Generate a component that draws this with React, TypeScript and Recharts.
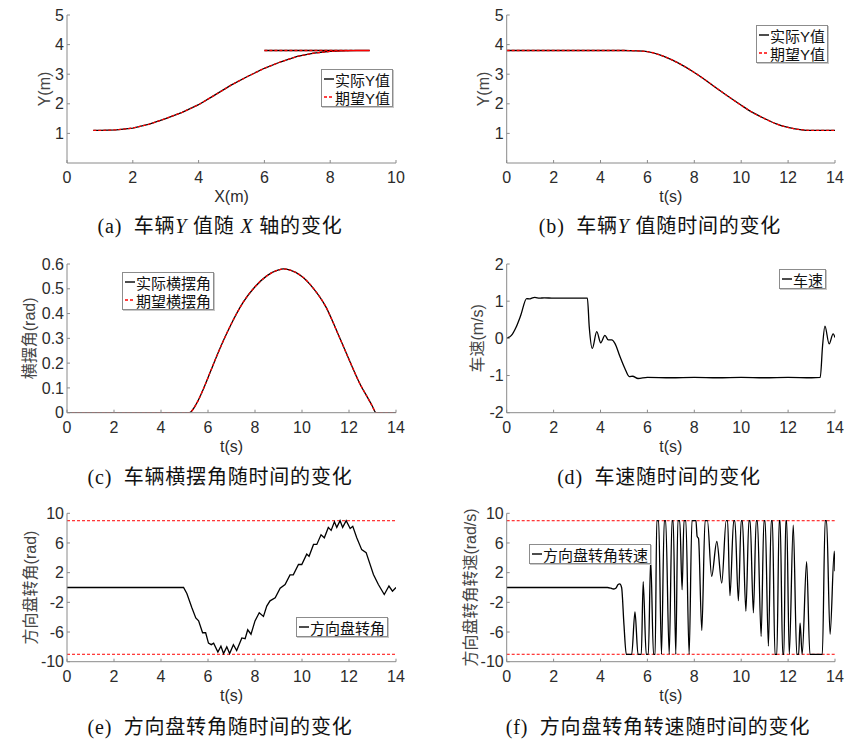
import React from 'react';
import { LineChart, Line, XAxis, YAxis, ReferenceLine, Legend } from 'recharts';

// (a) 车辆Y值随X轴的变化 - path in driving order (forward to 9.2 m, then back)
const xPathA = [6.0, 6.5, 7.0, 7.5, 8.0, 8.5, 9.0, 9.2, 8.8, 8.4, 8.0, 7.5, 7.0, 6.5, 6.0, 5.5, 5.0, 4.5, 4.0, 3.5, 3.0, 2.5, 2.0, 1.5, 1.0, 0.8];
const actualYA = [3.8, 3.8, 3.8, 3.8, 3.8, 3.8, 3.8, 3.8, 3.8, 3.79, 3.77, 3.71, 3.6, 3.42, 3.2, 2.93, 2.64, 2.3, 1.97, 1.71, 1.5, 1.31, 1.18, 1.12, 1.1, 1.1];
const desiredYA = [3.8, 3.8, 3.8, 3.8, 3.8, 3.8, 3.8, 3.8, 3.8, 3.79, 3.77, 3.71, 3.6, 3.42, 3.2, 2.93, 2.64, 2.3, 1.97, 1.71, 1.5, 1.31, 1.18, 1.12, 1.1, 1.1];
const xTicksA = [0, 2, 4, 6, 8, 10];
const yTicksAB = [1, 2, 3, 4, 5];

// (b) 车辆Y值随时间的变化
const tB = [0, 5, 5.5, 6, 6.5, 7, 7.5, 8, 8.5, 9, 9.5, 10, 10.5, 11, 11.5, 12, 12.5, 13, 13.5, 14];
const actualYB = [3.8, 3.8, 3.79, 3.76, 3.66, 3.5, 3.3, 3.06, 2.79, 2.5, 2.22, 1.95, 1.7, 1.5, 1.32, 1.2, 1.13, 1.1, 1.1, 1.1];
const desiredYB = [3.8, 3.8, 3.79, 3.76, 3.66, 3.5, 3.3, 3.06, 2.79, 2.5, 2.22, 1.95, 1.7, 1.5, 1.32, 1.2, 1.13, 1.1, 1.1, 1.1];
const tTicks = [0, 2, 4, 6, 8, 10, 12, 14];

// (c) 车辆横摆角随时间的变化
const tC = [0, 5, 5.2, 5.5, 5.8, 6.1, 6.4, 6.7, 7, 7.5, 8, 8.5, 9, 9.2, 9.5, 10, 10.5, 11, 11.5, 12, 12.5, 12.8, 13, 13.15, 14];
const actualYawC = [0, 0, 0, 0.035, 0.095, 0.165, 0.235, 0.3, 0.36, 0.446, 0.508, 0.552, 0.576, 0.58, 0.575, 0.55, 0.5, 0.43, 0.325, 0.215, 0.11, 0.06, 0.025, 0, 0];
const desiredYawC = [0, 0, 0, 0.035, 0.095, 0.165, 0.235, 0.3, 0.36, 0.446, 0.508, 0.552, 0.576, 0.58, 0.575, 0.55, 0.5, 0.43, 0.325, 0.215, 0.11, 0.06, 0.025, 0, 0];
const yTicksC = [0, 0.1, 0.2, 0.3, 0.4, 0.5, 0.6];

// (d) 车速随时间的变化
const tD = [0, 0.2, 0.4, 0.6, 0.85, 0.97, 1.1, 1.2, 1.4, 1.6, 2, 3, 3.44, 3.52, 3.65, 3.84, 4.01, 4.19, 4.33, 4.48, 4.62, 4.83, 5.04, 5.23, 5.37, 5.6, 6, 7, 8, 9, 10, 11, 12, 13, 13.37, 13.47, 13.57, 13.75, 13.92, 14];
const speedD = [0, 0.08, 0.3, 0.62, 1.07, 1.06, 1.09, 1.1, 1.08, 1.09, 1.08, 1.08, 1.08, 0.31, -0.27, 0.18, -0.12, 0.08, -0.04, -0.04, -0.14, -0.49, -0.81, -1.03, -1.02, -1.08, -1.05, -1.06, -1.05, -1.06, -1.05, -1.06, -1.05, -1.06, -1.05, -0.2, 0.33, -0.15, 0.12, 0.02];
const yTicksD = [-2, -1, 0, 1, 2];

// (e) 方向盘转角随时间的变化
const tE = [0, 4.96, 5.1, 5.31, 5.48, 5.6, 5.77, 5.9, 6.02, 6.14, 6.24, 6.42, 6.55, 6.66, 6.8, 6.92, 7.08, 7.22, 7.44, 7.58, 7.69, 7.83, 8.0, 8.18, 8.36, 8.5, 8.64, 8.86, 9.07, 9.28, 9.49, 9.63, 9.85, 9.99, 10.2, 10.3, 10.49, 10.63, 10.81, 10.95, 11.12, 11.24, 11.38, 11.48, 11.62, 11.73, 11.88, 12.05, 12.16, 12.33, 12.54, 12.73, 13.04, 13.25, 13.5, 13.7, 13.85, 14];
const steerE = [0, 0, -0.8, -2.7, -4.1, -4.5, -6.1, -6.1, -7.5, -7.7, -7.5, -8.7, -7.9, -8.9, -8.0, -8.9, -7.7, -8.5, -6.8, -6.9, -5.7, -6.3, -4.5, -3.4, -3.9, -2.5, -1.8, -1.4, -0.1, 0.4, 1.7, 1.7, 3.1, 3.1, 4.5, 4.2, 5.8, 5.8, 7.1, 6.7, 8.1, 7.7, 8.85, 8.1, 9.0, 8.1, 9.0, 7.95, 8.25, 6.7, 5.1, 4.7, 1.75, 0.4, -0.94, 0.2, -0.5, 0];
const yTicksEF = [-10, -6, -2, 2, 6, 10];
const steerLimit = 9;

// (f) 方向盘转角转速随时间的变化
const tF = [0, 4.3, 4.45, 4.55, 4.65, 4.75, 4.82, 4.9, 5.0, 5.1, 5.33, 5.47, 5.6, 5.74, 5.82, 5.95, 6.04, 6.14, 6.26, 6.33, 6.4, 6.48, 6.6, 6.72, 6.78, 6.93, 7.05, 7.1, 7.21, 7.3, 7.38, 7.48, 7.56, 7.64, 7.78, 7.9, 8.07, 8.12, 8.18, 8.32, 8.46, 8.56, 8.74, 8.96, 9.17, 9.36, 9.42, 9.52, 9.68, 9.73, 9.88, 10.0, 10.05, 10.2, 10.33, 10.38, 10.52, 10.64, 10.69, 10.85, 10.97, 11.02, 11.16, 11.28, 11.33, 11.44, 11.52, 11.62, 11.66, 11.77, 11.82, 11.9, 11.94, 12.05, 12.22, 12.37, 12.45, 12.51, 12.6, 12.79, 12.93, 13.46, 13.58, 13.64, 13.79, 13.97, 14];
const steerRateF = [0, 0, -0.1, -0.2, -0.1, 0.4, 0.5, 0, -5, -9, -9, -3.3, -9, -9, 0.8, -9, -9, 3.8, -9, -9, 9, 9, -9, 9, 9, -9, 9, 9, -9, 9, 9, -0.3, 9, 9, -9, 9, 9, 6.9, 6.6, -5.8, 9, 9, 1.5, 6.2, 0.6, 9, 9, -1.1, 9, 9, -1.8, 9, 9, -3.2, 9, 9, -3.4, 9, 9, -6.6, 9, 9, -7.9, 9, 9, -9, -9, 9, 9, -9, -9, 9, 9, -9, 8.4, -9, -9, -4.8, -9, 3.5, -9, -9, 9, 9, -6.3, 4.9, 2.2];
const rateLimit = 9;

const AXIS = '#8a8a8a';
const INK = '#2b2b2b';
const SANS = '"Liberation Sans", Arial, "Noto Sans CJK SC", sans-serif';
const SERIF = '"Liberation Serif", "Times New Roman", "Noto Sans CJK SC", serif';
const YW = 40;
const XH = 30;

type Box = { left: number; top: number; width: number; height: number };
type Plot = { x0: number; x1: number; y0: number; y1: number };
type Item = { name: string; color: string; dash?: string };

const margins = (c: Box, p: Plot) => ({
    left: p.x0 - c.left - YW,
    top: p.y0 - c.top,
    right: c.left + c.width - p.x1,
    bottom: c.top + c.height - p.y1 - XH,
});

const tickStyle = { fill: INK, fontSize: 16, fontFamily: SANS };

function LegendBox({ items }: { items: Item[] }) {
    return (
        <div style={{ display: 'inline-block', border: '1px solid #8c8c8c', background: '#fff', padding: '0 2px 0 2px', boxShadow: '1px 1px 0 #c8c8c8' }}>
            {items.map(it => (
                <div key={it.name} style={{ display: 'flex', alignItems: 'center', height: 18, fontSize: 15, fontFamily: SANS, color: '#111', whiteSpace: 'nowrap' }}>
                    <svg width={10} height={4} style={{ marginRight: 1 }}>
                        <line x1={0} y1={2} x2={10} y2={2} stroke={it.color} strokeWidth={1.4} strokeDasharray={it.dash} />
                    </svg>
                    <span>{it.name}</span>
                </div>
            ))}
        </div>
    );
}

interface PanelProps {
    cell: Box;
    plot: Plot;
    data?: any[];
    xKey: string;
    xDomain: [number, number];
    xTicks: number[];
    yDomain: [number, number];
    yTicks: number[];
    xTitle: string;
    yTitle: string;
    yTitleX: number;
    legend: Item[];
    legendAt: { x: number; y: number };
    children: React.ReactNode;
}

function Panel({ cell, plot, data, xKey, xDomain, xTicks, yDomain, yTicks, xTitle, yTitle, yTitleX, legend, legendAt, children }: PanelProps) {
    const xlx = (plot.x0 + plot.x1) / 2 - cell.left;
    const xly = plot.y1 - cell.top + 39;
    const ylx = yTitleX - cell.left;
    const yly = (plot.y0 + plot.y1) / 2 - cell.top;
    return (
        <div style={{ position: 'absolute', left: cell.left, top: cell.top, width: cell.width, height: cell.height }}>
            <LineChart width={cell.width} height={cell.height} data={data} margin={margins(cell, plot)}>
                <XAxis
                    dataKey={xKey}
                    type="number"
                    domain={xDomain}
                    ticks={xTicks}
                    interval={0}
                    allowDataOverflow
                    stroke={AXIS}
                    tickSize={-3}
                    tickMargin={12}
                    height={XH}
                    tick={tickStyle}
                    label={() => (
                        <text x={xlx} y={xly} textAnchor="middle" fontSize={16} fontFamily={SANS} fill={INK}>{xTitle}</text>
                    )}
                />
                <YAxis
                    type="number"
                    domain={yDomain}
                    ticks={yTicks}
                    interval={0}
                    allowDataOverflow
                    stroke={AXIS}
                    tickSize={-3}
                    tickMargin={6}
                    width={YW}
                    tick={tickStyle}
                    label={() => (
                        <text x={ylx} y={yly} transform={`rotate(-90 ${ylx} ${yly})`} textAnchor="middle" dominantBaseline="central" fontSize={16} fontFamily={SANS} fill="#444">{yTitle}</text>
                    )}
                />
                {children}
                <Legend
                    verticalAlign="middle"
                    align="center"
                    layout="horizontal"
                    wrapperStyle={{ left: legendAt.x - cell.left, top: legendAt.y - cell.top, width: 'auto', height: 'auto' }}
                    content={() => <LegendBox items={legend} />}
                />
            </LineChart>
        </div>
    );
}

function Caption({ cx, cy, children }: { cx: number; cy: number; children: React.ReactNode }) {
    return (
        <div style={{ position: 'absolute', left: cx, top: cy, transform: 'translate(-50%, -50%)', whiteSpace: 'nowrap', fontFamily: SERIF, fontSize: 20, letterSpacing: 0.8, color: '#111', lineHeight: 1 }}>
            {children}
        </div>
    );
}

const solid = { stroke: '#000', strokeWidth: 1.3, dot: false, activeDot: false, isAnimationActive: false } as const;
const dashed = { stroke: '#ff0000', strokeWidth: 1.3, strokeDasharray: '3 2', dot: false, activeDot: false, isAnimationActive: false } as const;

export default function App() {
    const actualA = xPathA.map((x, i) => ({ x, y: actualYA[i] }));
    const desiredA = xPathA.map((x, i) => ({ x, y: desiredYA[i] }));
    const dataB = tB.map((t, i) => ({ t, actual: actualYB[i], desired: desiredYB[i] }));
    const dataC = tC.map((t, i) => ({ t, actual: actualYawC[i], desired: desiredYawC[i] }));
    const dataD = tD.map((t, i) => ({ t, v: speedD[i] }));
    const dataE = tE.map((t, i) => ({ t, v: steerE[i] }));
    const dataF = tF.map((t, i) => ({ t, v: steerRateF[i] }));

    const pairY: Item[] = [
        { name: '实际Y值', color: '#000' },
        { name: '期望Y值', color: '#ff0000', dash: '3 2' },
    ];
    const pairYaw: Item[] = [
        { name: '实际横摆角', color: '#000' },
        { name: '期望横摆角', color: '#ff0000', dash: '3 2' },
    ];

    return (
        <div style={{ position: 'absolute', left: 0, top: 0, width: 864, height: 748, background: '#fff' }}>
            <Panel
                cell={{ left: 0, top: 0, width: 430, height: 240 }}
                plot={{ x0: 67, x1: 396, y0: 15, y1: 163 }}
                xKey="x" xDomain={[0, 10]} xTicks={xTicksA} yDomain={[0, 5]} yTicks={yTicksAB}
                xTitle="X(m)" yTitle="Y(m)" yTitleX={44}
                legend={pairY} legendAt={{ x: 321, y: 69 }}
            >
                <Line data={actualA} dataKey="y" type="linear" {...solid} />
                <Line data={desiredA} dataKey="y" type="linear" {...dashed} />
            </Panel>

            <Panel
                cell={{ left: 430, top: 0, width: 434, height: 240 }}
                plot={{ x0: 506.7, x1: 835, y0: 15, y1: 163 }}
                data={dataB} xKey="t" xDomain={[0, 14]} xTicks={tTicks} yDomain={[0, 5]} yTicks={yTicksAB}
                xTitle="t(s)" yTitle="Y(m)" yTitleX={483}
                legend={pairY} legendAt={{ x: 756, y: 25 }}
            >
                <Line dataKey="actual" type="monotone" {...solid} />
                <Line dataKey="desired" type="monotone" {...dashed} />
            </Panel>

            <Panel
                cell={{ left: 0, top: 240, width: 430, height: 250 }}
                plot={{ x0: 67, x1: 396, y0: 264, y1: 412.7 }}
                data={dataC} xKey="t" xDomain={[0, 14]} xTicks={tTicks} yDomain={[0, 0.6]} yTicks={yTicksC}
                xTitle="t(s)" yTitle="横摆角(rad)" yTitleX={30}
                legend={pairYaw} legendAt={{ x: 122, y: 272 }}
            >
                <Line dataKey="actual" type="monotone" {...solid} />
                <Line dataKey="desired" type="monotone" {...dashed} />
            </Panel>

            <Panel
                cell={{ left: 430, top: 240, width: 434, height: 250 }}
                plot={{ x0: 506.7, x1: 835, y0: 264, y1: 412.7 }}
                data={dataD} xKey="t" xDomain={[0, 14]} xTicks={tTicks} yDomain={[-2, 2]} yTicks={yTicksD}
                xTitle="t(s)" yTitle="车速(m/s)" yTitleX={478}
                legend={[{ name: '车速', color: '#000' }]} legendAt={{ x: 779, y: 267 }}
            >
                <Line dataKey="v" type="monotone" {...solid} />
            </Panel>

            <Panel
                cell={{ left: 0, top: 495, width: 430, height: 253 }}
                plot={{ x0: 67, x1: 396, y0: 513.3, y1: 661.7 }}
                data={dataE} xKey="t" xDomain={[0, 14]} xTicks={tTicks} yDomain={[-10, 10]} yTicks={yTicksEF}
                xTitle="t(s)" yTitle="方向盘转角(rad)" yTitleX={30}
                legend={[{ name: '方向盘转角', color: '#000' }]} legendAt={{ x: 296, y: 615 }}
            >
                <ReferenceLine y={steerLimit} stroke="#ff0000" strokeDasharray="3 2" />
                <ReferenceLine y={-steerLimit} stroke="#ff0000" strokeDasharray="3 2" />
                <Line dataKey="v" type="linear" {...solid} />
            </Panel>

            <Panel
                cell={{ left: 430, top: 495, width: 434, height: 253 }}
                plot={{ x0: 506.7, x1: 835, y0: 513.3, y1: 661.7 }}
                data={dataF} xKey="t" xDomain={[0, 14]} xTicks={tTicks} yDomain={[-10, 10]} yTicks={yTicksEF}
                xTitle="t(s)" yTitle="方向盘转角转速(rad/s)" yTitleX={470}
                legend={[{ name: '方向盘转角转速', color: '#000' }]} legendAt={{ x: 529, y: 542 }}
            >
                <ReferenceLine y={rateLimit} stroke="#ff0000" strokeDasharray="3 2" />
                <ReferenceLine y={-rateLimit} stroke="#ff0000" strokeDasharray="3 2" />
                <Line dataKey="v" type="monotone" {...solid} />
            </Panel>

            <Caption cx={220} cy={226}>(a)&nbsp; 车辆<i>Y</i> 值随 <i>X</i> 轴的变化</Caption>
            <Caption cx={660} cy={226}>(b)&nbsp; 车辆<i>Y</i> 值随时间的变化</Caption>
            <Caption cx={220} cy={477}>(c)&nbsp; 车辆横摆角随时间的变化</Caption>
            <Caption cx={659} cy={477}>(d)&nbsp; 车速随时间的变化</Caption>
            <Caption cx={220} cy={727}>(e)&nbsp; 方向盘转角随时间的变化</Caption>
            <Caption cx={658} cy={727}>(f)&nbsp; 方向盘转角转速随时间的变化</Caption>
        </div>
    );
}
